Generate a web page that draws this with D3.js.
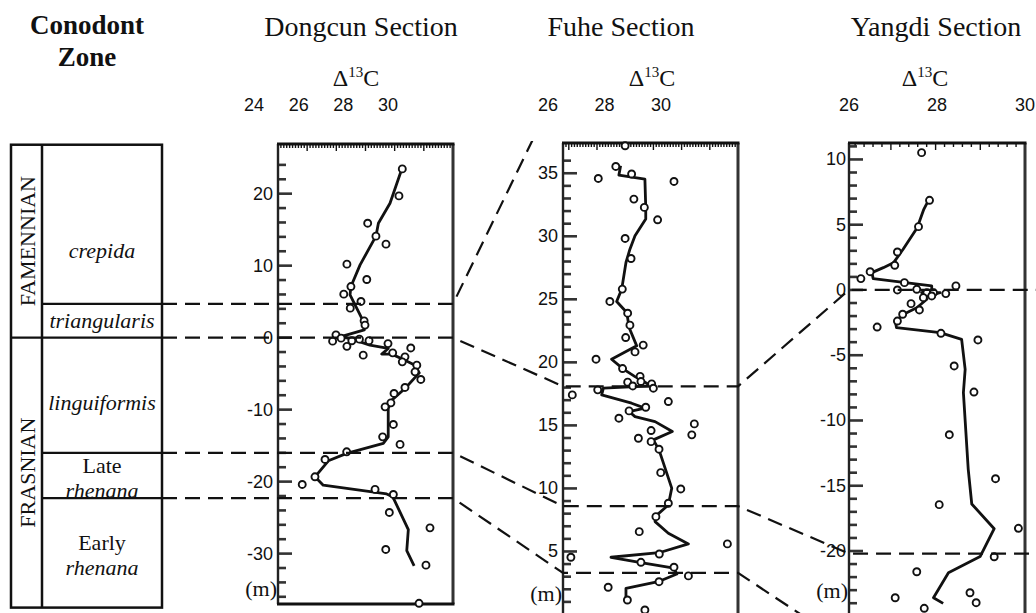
<!DOCTYPE html>
<html lang="en">
<head>
<meta charset="utf-8">
<title>Conodont zones and carbon isotope sections</title>
<script src="https://cdn.jsdelivr.net/npm/d3@7"></script>
<style>
  body { margin: 0; background: #fff; }
  svg text { font-family: "Liberation Serif", "Times New Roman", serif; fill: #111; }
  svg text.num { font-family: "Liberation Sans", Arial, sans-serif; font-size: 18px; }
</style>
</head>
<body>
<svg id="chart" width="1036" height="613"></svg>
<script>
// ---- data: [d13C value, height in metres] ----
var dongcunPoints = [[30.64,23.44],[30.49,19.69],[29.09,15.9],[29.46,14.1],[29.91,12.99],[28.16,10.21],[29.05,8.08],[28.34,7.1],[28.02,6.04],[28.79,5.03],[28.31,4.1],[28.93,2.33],[28.97,1.74],[27.67,0.39],[27.52,-0.49],[27.9,-0.07],[28.72,-0.21],[29.15,-0.42],[30.0,-0.83],[31.02,-1.43],[28.16,-1.21],[28.38,-0.44],[28.89,-2.43],[30.21,-2.11],[30.76,-2.67],[30.64,-3.36],[31.29,-3.82],[31.21,-4.75],[31.47,-5.81],[30.76,-6.92],[30.27,-7.75],[30.13,-9.06],[29.87,-9.61],[30.24,-12.06],[29.76,-13.78],[30.54,-14.83],[28.15,-15.86],[27.18,-16.92],[26.73,-19.33],[26.16,-20.39],[29.42,-21.08],[30.24,-21.78],[30.06,-24.28],[31.88,-26.42],[29.9,-29.42],[31.7,-31.6],[31.39,-36.9]];
var dongcunCurve = [[30.58,23.08],[30.09,18.68],[29.57,15.9],[29.46,14.1],[28.75,10.11],[28.34,7.11],[28.3,5.94],[28.75,3.17],[28.93,2.01],[28.94,1.08],[27.93,0.17],[28.75,-0.58],[29.19,-1.04],[30.01,-1.5],[29.72,-2.29],[30.17,-2.29],[30.76,-3.13],[31.21,-3.82],[31.4,-4.89],[30.76,-7.06],[30.17,-8.68],[30.01,-9.83],[30.01,-13.78],[29.79,-14.69],[28.15,-16.08],[27.33,-17.11],[26.73,-19.33],[27.1,-20.49],[29.94,-21.71],[30.21,-22.08],[30.91,-26.67],[30.84,-29.58],[31.17,-31.69]];

var fuhePoints = [[28.73,37.18],[28.4,35.54],[28.96,34.94],[27.78,34.59],[30.46,34.35],[29.04,32.95],[29.41,32.29],[29.88,31.31],[28.73,29.83],[28.94,28.24],[28.63,25.81],[28.19,24.83],[28.82,23.9],[28.9,22.95],[28.75,21.97],[29.37,21.37],[29.08,20.83],[27.7,20.25],[28.64,19.51],[29.26,18.89],[28.82,18.43],[29.29,18.48],[29.67,18.29],[29.73,17.95],[29.0,18.13],[27.76,17.82],[26.86,17.42],[30.26,16.89],[29.46,16.44],[28.87,16.15],[28.51,15.57],[31.18,15.12],[31.09,14.25],[29.65,14.59],[29.2,13.98],[29.65,13.71],[29.93,13.11],[29.99,11.25],[30.7,9.96],[30.26,8.83],[29.82,7.76],[29.23,6.57],[32.35,5.6],[26.81,4.54],[29.94,4.8],[29.29,4.14],[30.46,3.75],[30.97,3.06],[29.93,2.6],[28.13,2.16],[28.81,1.15],[29.43,0.36]];
var fuheCurve = [[28.57,35.6],[28.51,34.86],[29.43,34.54],[29.46,32.29],[29.46,31.37],[29.08,30.04],[28.9,28.98],[28.76,27.92],[28.61,25.81],[28.43,24.83],[28.79,23.95],[28.87,22.76],[29.14,21.31],[28.25,20.25],[28.67,19.46],[29.08,18.87],[29.67,18.13],[27.96,17.95],[27.9,17.42],[28.96,16.76],[29.43,16.37],[28.87,16.1],[29.08,15.7],[29.79,15.3],[30.4,14.51],[29.73,13.85],[29.93,13.06],[30.38,10.02],[30.26,8.69],[29.79,7.76],[29.79,7.37],[30.26,6.44],[30.97,5.6],[29.93,4.9],[28.23,4.54],[29.29,4.11],[30.46,3.67],[30.56,3.21],[29.9,2.6],[28.76,2.08],[28.76,1.21]];

var yangdiPoints = [[27.65,10.52],[27.83,6.87],[27.58,4.85],[27.1,2.91],[27.04,1.89],[26.48,1.4],[26.27,0.87],[27.26,0.56],[27.1,0.0],[28.43,0.31],[28.2,-0.28],[27.54,0.05],[27.77,-0.21],[27.92,-0.21],[27.69,-0.59],[27.88,-0.46],[27.41,-1.05],[27.6,-1.53],[27.22,-1.86],[27.1,-2.38],[26.64,-2.84],[28.09,-3.32],[28.93,-3.83],[28.39,-5.82],[28.84,-7.82],[28.28,-11.09],[29.33,-14.46],[28.05,-16.45],[29.85,-18.26],[29.3,-20.44],[27.54,-21.59],[27.05,-23.58],[28.75,-23.2],[28.89,-23.96],[27.71,-24.39]];
var yangdiCurve = [[27.8,6.82],[27.7,6.18],[27.55,4.77],[27.23,3.12],[27.01,2.08],[26.78,1.71],[26.52,1.33],[26.55,0.87],[27.88,0.31],[27.88,0],[27.65,-0.21],[28.07,-0.21],[27.65,-0.59],[27.77,-0.71],[27.54,-1.36],[27.31,-1.74],[27.05,-2.38],[27.08,-2.89],[28.07,-3.27],[28.56,-3.78],[28.64,-6.08],[28.6,-7.87],[28.71,-13.74],[28.79,-16.4],[29.3,-18.29],[28.98,-20.43],[28.26,-21.66],[27.92,-23.58],[28.14,-24.01]];

var dongcunXLabels = [24, 26, 28, 30];
var fuheXLabels = [26, 28, 30];
var yangdiXLabels = [26, 28, 30];
var dongcunYLabels = [20, 10, 0, -10, -20, -30];
var fuheYLabels = [35, 30, 25, 20, 15, 10, 5];
var yangdiYLabels = [10, 5, 0, -5, -10, -15, -20];

// correlation levels (m) of the zone boundaries in each section
var dongcunLevels = [4.7, 0, -16, -22.3];
var fuheLevels = [42.6, 18.1, 8.6, 3.3];
var yangdiLevels = [null, 0, -20.2, -27.3];

// conodont zone column, boundaries given in Dongcun metres
var stages = ['FAMENNIAN', 'FRASNIAN'];
var stageBounds = [26.8, 0, -37.5];
var zones = [['crepida'], ['triangularis'], ['linguiformis'], ['Late', 'rhenana'], ['Early', 'rhenana']];
var zoneItalic = [[true], [true], [true], [false, true], [false, true]];
var zoneBounds = [26.8, 4.7, 0, -16, -22.3, -37.5];

// ---- layout ----
var svg = d3.select('#chart');

// xDomain/xRange: the printed isotope scale; left/right: the drawn frame
var panels = [
  {title: 'Dongcun Section', titleX: 361, deltaX: 356, left: 278, right: 453, top: 144, bottom: 604, boxBottom: true,
   xDomain: [24, 30], xRange: [254, 388], yDomain: [26.9, -37], xLabels: dongcunXLabels, yLabels: dongcunYLabels,
   yMinor: d3.range(-36, 25, 2), yMajorStep: 10, topStep: 29.17, topMinor: 10, labelGap: 5, mY: 588,
   pts: dongcunPoints, curve: dongcunCurve},
  {title: 'Fuhe Section', titleX: 621, deltaX: 652, left: 563, right: 738, top: 143, bottom: 614.5, boxBottom: false,
   xDomain: [26, 30], xRange: [548, 661], yDomain: [37.4, 0], xLabels: fuheXLabels, yLabels: fuheYLabels,
   yMinor: d3.range(1, 37), yMajorStep: 5, topStep: 28.2, topMinor: 10, labelGap: 5, mY: 593,
   pts: fuhePoints, curve: fuheCurve},
  {title: 'Yangdi Section', titleX: 936, deltaX: 925, left: 849, right: 1025, top: 143, bottom: 613, boxBottom: false,
   xDomain: [26, 30], xRange: [849, 1025], yDomain: [11.26, -24.75], xLabels: yangdiXLabels, yLabels: yangdiYLabels,
   yMinor: d3.range(-24, 12), yMajorStep: 5, topStep: 44.7, topMinor: 5, labelGap: 3, mY: 590,
   pts: yangdiPoints, curve: yangdiCurve}
];

panels.forEach(function(p) {
  p.x = d3.scaleLinear().domain(p.xDomain).range(p.xRange);
  p.y = d3.scaleLinear().domain(p.yDomain).range([p.top, p.bottom]);
});

// ---- conodont zone column ----
var yZ = panels[0].y;
var colL = 11, colM = 42, colR = 162;
var zone = svg.append('g');

zone.append('text').attr('x', 87).attr('y', 34).attr('text-anchor', 'middle')
  .style('font-size', '27px').style('font-weight', 'bold').text('Conodont');
zone.append('text').attr('x', 87).attr('y', 66).attr('text-anchor', 'middle')
  .style('font-size', '27px').style('font-weight', 'bold').text('Zone');

zone.append('rect')
  .attr('x', colL).attr('y', yZ(zoneBounds[0]))
  .attr('width', colR - colL).attr('height', yZ(zoneBounds[zoneBounds.length - 1]) - yZ(zoneBounds[0]))
  .attr('fill', 'none').attr('stroke', '#111').attr('stroke-width', 2.5);
zone.append('line').attr('x1', colM).attr('x2', colM)
  .attr('y1', yZ(zoneBounds[0])).attr('y2', yZ(zoneBounds[zoneBounds.length - 1]))
  .attr('stroke', '#111').attr('stroke-width', 2.5);

zoneBounds.slice(1, -1).forEach(function(b) {
  zone.append('line').attr('x1', b === stageBounds[1] ? colL : colM).attr('x2', colR)
    .attr('y1', yZ(b)).attr('y2', yZ(b)).attr('stroke', '#111').attr('stroke-width', 2.2);
});

stages.forEach(function(s, i) {
  var cy = (yZ(stageBounds[i]) + yZ(stageBounds[i + 1])) / 2;
  zone.append('text').attr('transform', 'translate(' + 27 + ',' + cy + ') rotate(-90)')
    .attr('text-anchor', 'middle').attr('dominant-baseline', 'central')
    .style('font-size', '22px').text(s);
});

var zoneDy = [26, 0, 7, 0, 0];
zones.forEach(function(lines, i) {
  var cy = (yZ(zoneBounds[i]) + yZ(zoneBounds[i + 1])) / 2 + zoneDy[i];
  lines.forEach(function(t, j) {
    var off = lines.length === 1 ? 0 : (j === 0 ? -10 : 15);
    zone.append('text').attr('x', (colM + colR) / 2).attr('y', cy + off)
      .attr('text-anchor', 'middle').attr('dominant-baseline', 'central')
      .style('font-size', '22px').style('font-style', zoneItalic[i][j] ? 'italic' : 'normal')
      .text(t);
  });
});

// ---- section panels ----
panels.forEach(function(p) {
  var g = svg.append('g');

  g.append('text').attr('x', p.titleX).attr('y', 36).attr('text-anchor', 'middle')
    .style('font-size', '28px').text(p.title);

  var dl = g.append('text').attr('x', p.deltaX).attr('y', 86).attr('text-anchor', 'middle')
    .style('font-size', '24px');
  dl.append('tspan').text('\u0394');
  dl.append('tspan').attr('dy', -9).style('font-size', '15px').text('13');
  dl.append('tspan').attr('dy', 9).text('C');

  p.xLabels.forEach(function(v) {
    g.append('text').attr('class', 'num').attr('x', p.x(v)).attr('y', 111)
      .attr('text-anchor', 'middle').text(v);
  });

  // top ticks, counted from the right edge
  var step = p.topStep / p.topMinor;
  for (var k = 0; p.right - k * step >= p.left; k++) {
    var tx = p.right - k * step;
    g.append('line').attr('x1', tx).attr('x2', tx).attr('y1', p.top)
      .attr('y2', p.top + (k % p.topMinor === 0 ? 7 : 4))
      .attr('stroke', '#111').attr('stroke-width', 1.4);
  }

  // left ticks
  p.yMinor.forEach(function(v) {
    var major = v % p.yMajorStep === 0;
    g.append('line').attr('x1', p.left).attr('x2', p.left + (major ? 14 : 8))
      .attr('y1', p.y(v)).attr('y2', p.y(v))
      .attr('stroke', '#333').attr('stroke-width', 2.6);
  });
  p.yLabels.forEach(function(v) {
    g.append('text').attr('class', 'num').attr('x', p.left - p.labelGap).attr('y', p.y(v))
      .attr('text-anchor', 'end').attr('dominant-baseline', 'central').text(v);
  });
  g.append('text').attr('x', p.left - 1).attr('y', p.mY)
    .attr('text-anchor', 'end').attr('dominant-baseline', 'central')
    .style('font-size', '22px').text('(m)');

  // frame
  var frameBottom = p.boxBottom ? p.bottom : 613;
  g.append('line').attr('x1', p.left).attr('x2', p.left).attr('y1', p.top).attr('y2', frameBottom)
    .attr('stroke', '#222').attr('stroke-width', 2.4);
  g.append('line').attr('x1', p.right).attr('x2', p.right).attr('y1', p.top).attr('y2', frameBottom)
    .attr('stroke', '#333').attr('stroke-width', 3);
  g.append('line').attr('x1', p.left - 1).attr('x2', p.right + 1.5).attr('y1', p.top).attr('y2', p.top)
    .attr('stroke', '#111').attr('stroke-width', 3);
  if (p.boxBottom) {
    g.append('line').attr('x1', p.left - 1).attr('x2', p.right + 1.5).attr('y1', p.bottom).attr('y2', p.bottom)
      .attr('stroke', '#111').attr('stroke-width', 3);
  }

  var line = d3.line().x(function(d) { return p.x(d[0]); }).y(function(d) { return p.y(d[1]); });
  g.append('path').datum(p.curve).attr('d', line)
    .attr('fill', 'none').attr('stroke', '#111').attr('stroke-width', 2.8)
    .attr('stroke-linejoin', 'round');

  g.selectAll('circle').data(p.pts).enter().append('circle')
    .attr('cx', function(d) { return p.x(d[0]); })
    .attr('cy', function(d) { return p.y(d[1]); })
    .attr('r', 3.5).attr('fill', '#fff').attr('stroke', '#111').attr('stroke-width', 1.9);
});

// ---- dashed correlation lines ----
svg.append('clipPath').attr('id', 'clipCorr').append('rect')
  .attr('x', 0).attr('y', 141).attr('width', 1036).attr('height', 480);

var D = panels[0], F = panels[1], Y = panels[2];
dongcunLevels.forEach(function(lv, i) {
  var pts = [[colR, D.y(lv)], [D.right, D.y(lv)], [F.left, F.y(fuheLevels[i])]];
  if (fuheLevels[i] < 37) {
    pts.push([F.right, F.y(fuheLevels[i])]);
    pts.push([Y.left, Y.y(yangdiLevels[i])]);
    if (yangdiLevels[i] > -24.7) pts.push([1036, Y.y(yangdiLevels[i])]);
  }
  svg.append('path').attr('d', d3.line()(pts))
    .attr('clip-path', 'url(#clipCorr)')
    .attr('fill', 'none').attr('stroke', '#111').attr('stroke-width', 2.2)
    .attr('stroke-dasharray', '15,8');
});
</script>
</body>
</html>
